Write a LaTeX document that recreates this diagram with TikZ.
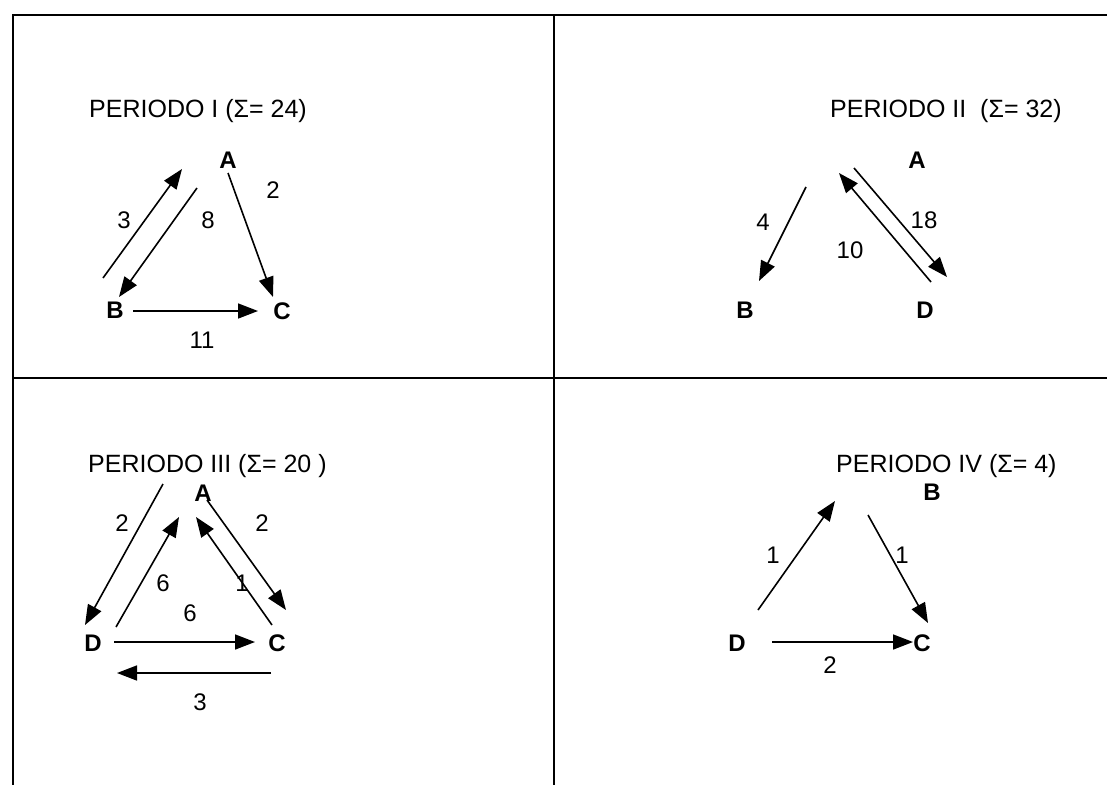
\documentclass[tikz,border=0pt]{standalone}
\usepackage{fontspec}
\setmainfont{Liberation Sans}
\usetikzlibrary{arrows.meta}
\begin{document}
\begin{tikzpicture}[x=1pt,y=-1pt,
  frame/.style={line width=1.8pt, black},
  arr/.style={line width=1.6pt, -{Triangle[length=20pt,width=15pt]}},
  vtx/.style={font=\fontsize{24}{28}\selectfont\bfseries, inner sep=0pt},
  num/.style={font=\fontsize{24}{28}\selectfont, inner sep=0pt},
  ttl/.style={font=\fontsize{25}{30}\selectfont, anchor=base west, inner sep=0pt}]
\useasboundingbox (0,0) rectangle (1107,785);
\fill[white] (0,0) rectangle (1107,785);
% frame
\coordinate (tl) at (13,15);
\coordinate (tr) at (1107,15);
\coordinate (bl) at (13,785);
\coordinate (tm) at (554,15);
\coordinate (bm) at (554,785);
\coordinate (ml) at (13,378);
\coordinate (mr) at (1107,378);
\draw[frame] (tr) -- (tl) -- (bl);
\draw[frame] (tm) -- (bm);
\draw[frame] (ml) -- (mr);

% ---------- Periodo I ----------
\node[ttl] (t1) at (89,117) {PERIODO I (Σ= 24)};
\node[vtx] (A1) at (228,160) {A};
\node[vtx] (B1) at (115,310) {B};
\node[vtx] (C1) at (282,311) {C};
\coordinate (p1a) at (103,278); \coordinate (p1b) at (182,169);
\coordinate (p1c) at (197,188); \coordinate (p1d) at (119,297);
\coordinate (p1e) at (228,173); \coordinate (p1f) at (273,297);
\coordinate (p1g) at (133,311); \coordinate (p1h) at (258,311);
\draw[arr] (p1a) -- (p1b);
\draw[arr] (p1c) -- (p1d);
\draw[arr] (p1e) -- (p1f);
\draw[arr] (p1g) -- (p1h);
\node[num] (n1a) at (124,220) {3};
\node[num] (n1b) at (208,220) {8};
\node[num] (n1c) at (273,190) {2};
\node[num] (n1d) at (202,340) {11};

% ---------- Periodo II ----------
\node[ttl] (t2) at (830,117) {PERIODO II\ \ (Σ= 32)};
\node[vtx] (A2) at (917,160) {A};
\node[vtx] (B2) at (745,310) {B};
\node[vtx] (D2) at (925,310) {D};
\coordinate (p2a) at (806,187); \coordinate (p2b) at (759,281);
\coordinate (p2c) at (931,282); \coordinate (p2d) at (839,173);
\coordinate (p2e) at (854,168); \coordinate (p2f) at (947,277);
\draw[arr] (p2a) -- (p2b);
\draw[arr] (p2c) -- (p2d);
\draw[arr] (p2e) -- (p2f);
\node[num] (n2a) at (763,222) {4};
\node[num] (n2b) at (850,250) {10};
\node[num] (n2c) at (924,220) {18};

% ---------- Periodo III ----------
\node[ttl] (t3) at (88,472) {PERIODO III (Σ= 20 )};
\node[vtx] (A3) at (203,493) {A};
\node[vtx] (D3) at (93,643) {D};
\node[vtx] (C3) at (277,643) {C};
\coordinate (p3a) at (163,484); \coordinate (p3b) at (85,625);
\coordinate (p3c) at (116,627); \coordinate (p3d) at (179,517);
\coordinate (p3e) at (272,625); \coordinate (p3f) at (196,517);
\coordinate (p3g) at (207,500); \coordinate (p3h) at (286,610);
\coordinate (p3i) at (114,642); \coordinate (p3j) at (255,642);
\coordinate (p3k) at (271,673); \coordinate (p3l) at (117,673);
\node[num] (n3e) at (242,583) {1};
\draw[arr] (p3a) -- (p3b);
\draw[arr] (p3c) -- (p3d);
\draw[arr] (p3e) -- (p3f);
\draw[arr] (p3g) -- (p3h);
\draw[arr] (p3i) -- (p3j);
\draw[arr] (p3k) -- (p3l);
\node[num] (n3a) at (122,523) {2};
\node[num] (n3b) at (262,523) {2};
\node[num] (n3c) at (163,583) {6};
\node[num] (n3d) at (190,613) {6};
\node[num] (n3f) at (200,702) {3};

% ---------- Periodo IV ----------
\node[ttl] (t4) at (836,472) {PERIODO IV (Σ= 4)};
\node[vtx] (B4) at (932,492) {B};
\node[vtx] (D4) at (737,643) {D};
\node[vtx] (C4) at (922,643) {C};
\coordinate (p4a) at (758,610); \coordinate (p4b) at (835,501);
\coordinate (p4c) at (868,515); \coordinate (p4d) at (928,623);
\coordinate (p4e) at (772,642); \coordinate (p4f) at (913,642);
\draw[arr] (p4a) -- (p4b);
\draw[arr] (p4c) -- (p4d);
\draw[arr] (p4e) -- (p4f);
\node[num] (n4a) at (773,555) {1};
\node[num] (n4b) at (902,555) {1};
\node[num] (n4c) at (830,665) {2};
\end{tikzpicture}
\end{document}
